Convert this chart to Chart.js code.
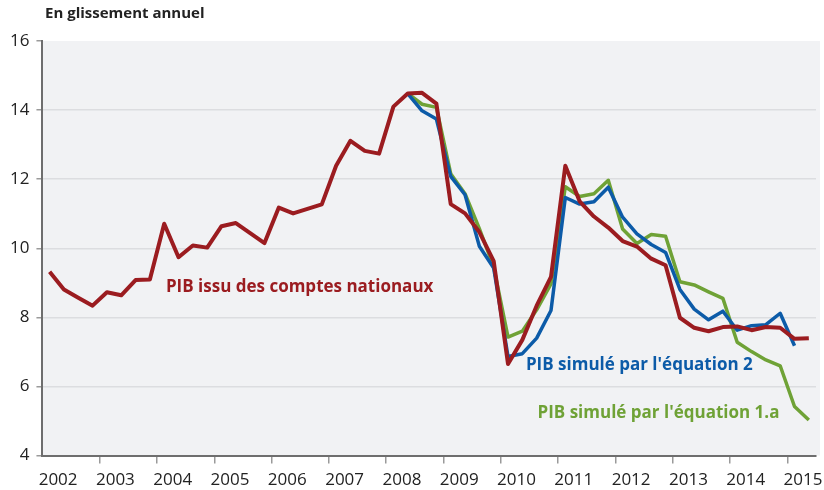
<!DOCTYPE html>
<html>
<head>
<meta charset="utf-8">
<script src="https://cdn.jsdelivr.net/npm/chart.js@4/dist/chart.umd.min.js"></script>
<style>
  html, body { margin: 0; padding: 0; background: #ffffff; }
  #wrap { width: 824px; height: 490px; position: relative; }
</style>
</head>
<body>
<div id="wrap"><canvas id="myChart" width="824" height="490"></canvas></div>
<script>
// Années affichées sous l'axe (un trimestre par point)
const annees = [2002, 2003, 2004, 2005, 2006, 2007, 2008, 2009, 2010, 2011, 2012, 2013, 2014, 2015];
const trimestresDerniereAnnee = 2;

// PIB issu des comptes nationaux (glissement annuel, %)
const pibComptes = [
    9.32, 8.81, 8.57, 8.34, 8.73, 8.64, 9.08, 9.10,
    10.71, 9.74, 10.08, 10.02, 10.64, 10.73, 10.44, 10.15,
    11.18, 11.01, 11.14, 11.27, 12.39, 13.11, 12.82, 12.74,
    14.10, 14.48, 14.50, 14.19, 11.28, 11.01, 10.47, 9.63,
    6.65, 7.35, 8.34, 9.17, 12.39, 11.36, 10.92, 10.60,
    10.21, 10.05, 9.70, 9.51, 7.99, 7.70, 7.60, 7.72,
    7.74, 7.63, 7.72, 7.70, 7.38, 7.40
];

// PIB simulé par l'équation 2 (à partir de 2008T2)
const pibEquation2 = [
    14.48, 13.98, 13.74, 12.08, 11.55, 10.06, 9.43,
    6.87, 6.95, 7.40, 8.20, 11.47, 11.28, 11.35, 11.77,
    10.90, 10.42, 10.11, 9.88, 8.81, 8.24, 7.93, 8.18,
    7.63, 7.76, 7.79, 8.12, 7.18
];

// PIB simulé par l'équation 1.a (à partir de 2008T2)
const pibEquation1a = [
    14.48, 14.17, 14.08, 12.16, 11.58, 10.57, 9.46,
    7.43, 7.60, 8.22, 8.97, 11.78, 11.50, 11.58, 11.97,
    10.56, 10.14, 10.40, 10.35, 9.03, 8.94, 8.74, 8.55,
    7.28, 7.01, 6.77, 6.60, 5.42, 5.03
];

const debutSimulation = 25; // index de 2008T2

// Construction des libellés trimestriels
const labels = [];
annees.forEach((a, i) => {
    const nb = i === annees.length - 1 ? trimestresDerniereAnnee : 4;
    for (let t = 1; t <= nb; t++) labels.push(a + 'T' + t);
});

const completer = (serie, debut) => {
    const out = new Array(labels.length).fill(null);
    serie.forEach((v, i) => { out[debut + i] = v; });
    return out;
};

const rouge = '#9b1c20';
const bleu = '#0c5ba8';
const vert = '#6fa236';

// Fond gris de la zone de tracé + étiquettes des séries
const fondEtTextes = {
    id: 'fondEtTextes',
    beforeDraw(chart) {
        const { ctx, chartArea } = chart;
        ctx.save();
        ctx.fillStyle = '#f1f2f4';
        ctx.fillRect(chartArea.left, chartArea.top, chartArea.right - chartArea.left + 4, chartArea.bottom - chartArea.top);
        ctx.restore();
    },
    afterDraw(chart) {
        const { ctx, scales } = chart;
        const x = scales.x, y = scales.y;
        ctx.save();
        ctx.font = 'bold 15px "Open Sans"';
        ctx.fillStyle = '#222222';
        ctx.textBaseline = 'middle';
        ctx.textAlign = 'left';
        ctx.fillText('En glissement annuel', 45, 14);

        ctx.font = 'bold 17px "Open Sans"';
        const etiquettes = [
            { texte: 'PIB issu des comptes nationaux', idx: 8.12, val: 8.88, couleur: rouge },
            { texte: "PIB simulé par l'équation 2", idx: 33.25, val: 6.62, couleur: bleu },
            { texte: "PIB simulé par l'équation 1.a", idx: 34.06, val: 5.23, couleur: vert }
        ];
        etiquettes.forEach(e => {
            ctx.fillStyle = e.couleur;
            ctx.fillText(e.texte, x.getPixelForValue(e.idx), y.getPixelForValue(e.val));
        });
        ctx.restore();
    }
};

const chartData = {
    labels: labels,
    datasets: [
        {
            label: 'PIB issu des comptes nationaux',
            data: pibComptes,
            borderColor: rouge,
            borderWidth: 4
        },
        {
            label: "PIB simulé par l'équation 2",
            data: completer(pibEquation2, debutSimulation),
            borderColor: bleu,
            borderWidth: 3.5
        },
        {
            label: "PIB simulé par l'équation 1.a",
            data: completer(pibEquation1a, debutSimulation),
            borderColor: vert,
            borderWidth: 3.5
        }
    ]
};

document.addEventListener("DOMContentLoaded", function () {
    const ctx = document.getElementById("myChart").getContext("2d");
    new Chart(ctx, {
        type: 'line',
        data: chartData,
        plugins: [fondEtTextes],
        options: {
            responsive: false,
            animation: false,
            layout: { padding: { top: 41, right: 8, bottom: -6, left: 3 } },
            elements: {
                point: { radius: 0 },
                line: { tension: 0, borderJoinStyle: 'round', borderCapStyle: 'butt' }
            },
            plugins: {
                legend: { display: false },
                title: { display: false },
                tooltip: { enabled: false }
            },
            scales: {
                x: {
                    type: 'category',
                    offset: true,
                    border: { display: true, color: '#6e6e6e', width: 2 },
                    grid: {
                        offset: true,
                        drawOnChartArea: false,
                        drawTicks: true,
                        tickLength: 8,
                        color: (c) => (c.index % 4 === 0 && c.index > 0) ? '#9a9a9a' : 'rgba(0,0,0,0)',
                        lineWidth: 1.5
                    },
                    ticks: {
                        autoSkip: false,
                        maxRotation: 0,
                        minRotation: 0,
                        padding: 6,
                        labelOffset: 8.5,
                        color: '#222222',
                        font: { family: 'Open Sans', size: 17 },
                        callback: function (val, index) {
                            return index % 4 === 0 ? String(annees[index / 4]) : '';
                        }
                    }
                },
                y: {
                    min: 4,
                    max: 16,
                    border: { display: true, color: '#6e6e6e', width: 2 },
                    grid: {
                        drawTicks: true,
                        tickLength: 6,
                        tickColor: '#9a9a9a',
                        color: (c) => (c.tick && (c.tick.value === 4 || c.tick.value === 16)) ? 'rgba(0,0,0,0)' : '#dcdde0',
                        lineWidth: 1.5
                    },
                    ticks: {
                        stepSize: 2,
                        padding: 7,
                        color: '#222222',
                        font: { family: 'Open Sans', size: 17 }
                    }
                }
            }
        }
    });
});
</script>
</body>
</html>
